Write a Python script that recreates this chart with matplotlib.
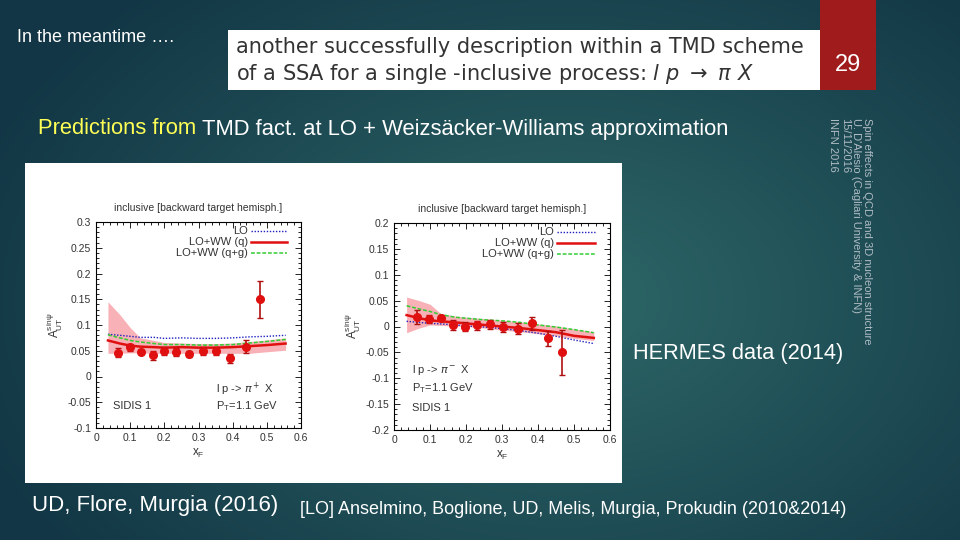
import numpy as np
import matplotlib as mpl
mpl.use('Agg')
import matplotlib.pyplot as plt
from matplotlib.ticker import MultipleLocator, AutoMinorLocator
from matplotlib.patches import Rectangle

plt.rcParams['font.family'] = ['Liberation Sans', 'DejaVu Sans']
plt.rcParams['mathtext.fontset'] = 'dejavusans'

# ---- data ----
# pi+ panel (left)
xf_pip = [0.065, 0.099, 0.131, 0.166, 0.200, 0.235, 0.271, 0.312, 0.351, 0.391, 0.440, 0.479]
a_pip = [0.046, 0.057, 0.048, 0.041, 0.049, 0.047, 0.044, 0.049, 0.049, 0.035, 0.058, 0.150]
err_pip = [0.009, 0.007, 0.005, 0.008, 0.008, 0.008, 0.006, 0.008, 0.008, 0.009, 0.012, 0.036]

xc_pip = [0.035, 0.07, 0.10, 0.13, 0.17, 0.20, 0.25, 0.30, 0.35, 0.40, 0.45, 0.50, 0.555]
lo_pip = [0.082, 0.080, 0.078, 0.076, 0.076, 0.074, 0.075, 0.074, 0.074, 0.075, 0.077, 0.078, 0.080]
ww_q_pip = [0.070, 0.064, 0.060, 0.058, 0.057, 0.056, 0.057, 0.056, 0.056, 0.057, 0.059, 0.061, 0.064]
ww_qg_pip = [0.081, 0.075, 0.070, 0.067, 0.064, 0.062, 0.062, 0.061, 0.061, 0.062, 0.065, 0.068, 0.072]
band_hi_pip = [0.145, 0.120, 0.095, 0.075, 0.070, 0.066, 0.065, 0.064, 0.064, 0.065, 0.068, 0.071, 0.075]
band_lo_pip = [0.045, 0.045, 0.046, 0.046, 0.045, 0.045, 0.045, 0.045, 0.045, 0.045, 0.045, 0.048, 0.051]

# pi- panel (right)
xf_pim = [0.065, 0.097, 0.131, 0.163, 0.197, 0.231, 0.267, 0.304, 0.344, 0.384, 0.428, 0.467]
a_pim = [0.018, 0.014, 0.017, 0.003, 0.000, 0.002, 0.004, -0.001, -0.004, 0.006, -0.023, -0.050]
err_pim = [0.013, 0.008, 0.005, 0.010, 0.008, 0.008, 0.008, 0.010, 0.011, 0.013, 0.015, 0.043]

xc_pim = [0.035, 0.07, 0.10, 0.13, 0.17, 0.20, 0.25, 0.30, 0.35, 0.40, 0.45, 0.50, 0.555]
lo_pim = [0.010, 0.008, 0.006, 0.005, 0.003, 0.001, -0.001, -0.004, -0.008, -0.013, -0.019, -0.026, -0.033]
ww_q_pim = [0.022, 0.016, 0.012, 0.010, 0.008, 0.006, 0.003, 0.000, -0.003, -0.007, -0.011, -0.018, -0.022]
ww_qg_pim = [0.040, 0.034, 0.029, 0.023, 0.018, 0.016, 0.013, 0.011, 0.008, 0.003, -0.001, -0.006, -0.012]
band_hi_pim = [0.057, 0.050, 0.043, 0.025, 0.020, 0.018, 0.015, 0.012, 0.009, 0.005, 0.001, -0.005, -0.010]
band_lo_pim = [-0.012, -0.003, 0.003, 0.002, 0.001, 0.000, -0.003, -0.007, -0.010, -0.014, -0.018, -0.023, -0.027]

W, H = 960, 540


def box(x, y, w, h):
    # pixel box (top-left origin) -> figure fraction
    return [x / W, 1 - (y + h) / H, w / W, h / H]


fig = plt.figure(figsize=(9.6, 5.4), dpi=100)

# slide background: teal radial gradient
bg = fig.add_axes([0, 0, 1, 1])
yy, xx = np.mgrid[0:H, 0:W]
r = np.sqrt(((xx - 560) / 620.0) ** 2 + ((yy - 300) / 420.0) ** 2)
r = np.clip(r, 0, 1)
c_in = np.array([0x2e, 0x68, 0x68]) / 255.0
c_out = np.array([0x12, 0x36, 0x45]) / 255.0
img = c_in[None, None, :] * (1 - r[..., None]) + c_out[None, None, :] * r[..., None]
bg.imshow(img, extent=[0, W, H, 0], aspect='auto')
bg.set_xlim(0, W)
bg.set_ylim(H, 0)
bg.axis('off')

# header boxes
bg.add_patch(Rectangle((228, 30), 592, 60, facecolor='white', edgecolor='none'))
bg.add_patch(Rectangle((820, 0), 56, 90, facecolor='#a01c1c', edgecolor='none'))
bg.add_patch(Rectangle((25, 163), 597, 320, facecolor='white', edgecolor='none'))

bg.text(17, 38, 'In the meantime \u2026.', color='white', fontsize=13, va='center')
bg.text(236, 47, 'another successfully description within a TMD scheme', color='#333333',
        fontsize=15, va='center', family='DejaVu Sans')
bg.text(236, 74, r'of a SSA for a single -inclusive process: $l\ p\ \rightarrow\ \pi\ X$',
        color='#333333', fontsize=15, va='center', family='DejaVu Sans')
bg.text(848, 65, '29', color='white', fontsize=17, ha='center', va='center')

t1 = bg.text(38, 129, 'Predictions from ', color='#ffff55', fontsize=15.8, va='center')
fig.canvas.draw()
ext = t1.get_window_extent()
x_next = ext.x1 * 960 / fig.bbox.width
bg.text(x_next, 129, 'TMD fact. at LO + Weizs\u00e4cker-Williams approximation', color='white',
        fontsize=15.8, va='center')

side = ('Spin effects in QCD and 3D nucleon structure\n'
        'U. D\'Alesio (Cagliari University & INFN)\n'
        '15/11/2016\n'
        'INFN 2016')
bg.text(872, 118, side, color='#b0bcc4', fontsize=8, rotation=-90, ha='right', va='top',
        multialignment='left', linespacing=1.15)

bg.text(633, 354, 'HERMES data (2014)', color='white', fontsize=15.7, va='center')
bg.text(32, 505, 'UD, Flore, Murgia (2016)', color='white', fontsize=16, va='center')
bg.text(300, 509, '[LO] Anselmino, Boglione, UD, Melis, Murgia, Prokudin (2010&2014)',
        color='white', fontsize=13, va='center')


def panel(rect, xf, a, err, xc, lo, wq, wqg, bhi, blo, ylim, ystep, proc, labels_pos):
    ax = fig.add_axes(rect)
    ax.fill_between(xc, blo, bhi, color='#f8a9ae', alpha=0.9, lw=0)
    ax.plot(xc, lo, color='#2020c0', ls=(0, (1, 1.2)), lw=1.0)
    ax.plot(xc, wqg, color='#33cc33', ls=(0, (2.5, 1.2)), lw=1.1)
    ax.plot(xc, wq, color='#e01010', lw=1.8)
    ax.errorbar(xf, a, yerr=err, fmt='o', color='#e01010', ecolor='#b01010',
                ms=5.5, elinewidth=1.2, capsize=2)
    ax.set_xlim(0, 0.6)
    ax.set_ylim(*ylim)
    ax.xaxis.set_major_locator(MultipleLocator(0.1))
    ax.yaxis.set_major_locator(MultipleLocator(ystep))
    ax.xaxis.set_minor_locator(AutoMinorLocator(5))
    ax.yaxis.set_minor_locator(AutoMinorLocator(5))
    ax.tick_params(which='both', direction='in', top=True, right=True, labelsize=7.5,
                   labelcolor='#333333', width=0.6)
    ax.tick_params(which='major', length=4)
    ax.tick_params(which='minor', length=2)
    for s in ax.spines.values():
        s.set_linewidth(0.8)
    ax.set_xticks(ax.get_xticks())
    ax.set_xticklabels([('%g' % round(v, 2)) for v in ax.get_xticks()])
    ax.set_yticks(ax.get_yticks())
    ax.set_yticklabels([('%g' % round(v, 2)) for v in ax.get_yticks()])
    ax.set_xlim(0, 0.6)
    ax.set_ylim(*ylim)
    ax.set_xlabel(r'x$_\mathregular{F}$', fontsize=8.5, color='#333333', labelpad=3)
    ax.set_ylabel(r'A$_\mathregular{UT}^\mathregular{sin\psi}$', fontsize=8.5,
                  color='#333333', labelpad=2)
    ax.set_title('inclusive [backward target hemisph.]', fontsize=7.5, color='#333333', pad=8)

    # legend drawn as in gnuplot: right-aligned text with sample line
    names = ['LO', 'LO+WW (q)', 'LO+WW (q+g)']
    styles = [dict(color='#2020c0', ls=(0, (1, 1.2)), lw=1.0),
              dict(color='#e01010', lw=1.8),
              dict(color='#33cc33', ls=(0, (2.5, 1.2)), lw=1.1)]
    for i, (n, st) in enumerate(zip(names, styles)):
        yl = 0.956 - i * 0.053
        ax.text(0.74, yl, n, transform=ax.transAxes, ha='right', va='center',
                fontsize=8, color='#333333')
        ax.plot([0.755, 0.93], [yl, yl], transform=ax.transAxes, **st)
    for (tx, ty, s) in zip(labels_pos[0], labels_pos[1], proc):
        ax.text(tx, ty, s, transform=ax.transAxes, fontsize=8, color='#333333',
                va='center')
    return ax


panel(box(96, 222, 205, 206), xf_pip, a_pip, err_pip, xc_pip, lo_pip, ww_q_pip, ww_qg_pip,
      band_hi_pip, band_lo_pip, (-0.1, 0.3), 0.05,
      [r'l p -> $\pi^+$ X', r'P$_\mathregular{T}$=1.1 GeV', 'SIDIS 1'],
      ([0.585, 0.585, 0.085], [0.19, 0.105, 0.105]))

panel(box(394, 223, 216, 207), xf_pim, a_pim, err_pim, xc_pim, lo_pim, ww_q_pim, ww_qg_pim,
      band_hi_pim, band_lo_pim, (-0.2, 0.2), 0.05,
      [r'l p -> $\pi^-$ X', r'P$_\mathregular{T}$=1.1 GeV', 'SIDIS 1'],
      ([0.083, 0.083, 0.083], [0.29, 0.20, 0.105]))

fig.savefig('out.png', dpi=100)
